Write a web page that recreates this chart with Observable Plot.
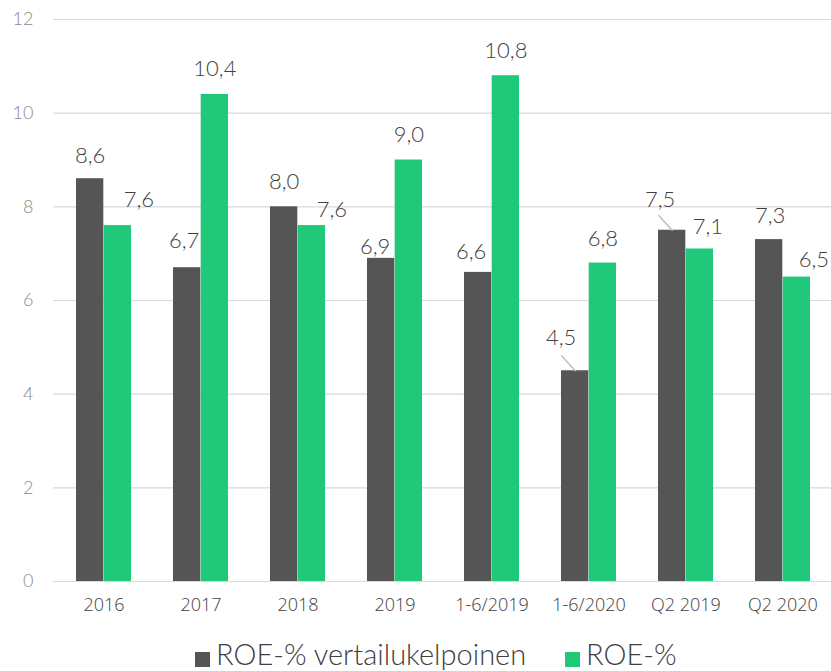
<!DOCTYPE html>
<html><head><meta charset="utf-8">
<script src="https://cdn.jsdelivr.net/npm/d3@7"></script>
<script src="https://cdn.jsdelivr.net/npm/@observablehq/plot@0.6"></script>
<style>
body{margin:0;background:#fff;}
#chart svg{display:block;}
#legend{position:relative;height:44px;font-family:Lato,sans-serif;font-weight:300;font-size:29px;line-height:1;color:#404040;white-space:nowrap;}
#legend .item{position:absolute;top:12px;}
#legend .sw{display:inline-block;width:15px;height:15px;vertical-align:-2px;margin-right:6px;}
</style></head><body>
<div id="chart"></div>
<div id="legend"></div>
<script>
// ---- data ----
const categories = ["2016", "2017", "2018", "2019", "1-6/2019", "1-6/2020", "Q2 2019", "Q2 2020"];
const seriesNames = ["ROE-% vertailukelpoinen", "ROE-%"];
const roeComparable = [8.6, 6.7, 8.0, 6.9, 6.6, 4.5, 7.5, 7.3];
const roe = [7.6, 10.4, 7.6, 9.0, 10.8, 6.8, 7.1, 6.5];
const yTicks = [0, 2, 4, 6, 8, 10, 12];
const leaderCategories = ["1-6/2020", "Q2 2019"];

// ---- layout / style ----
const colors = ["#555555", "#20c97a"];
const nudgeDx = [[0, -3, 0, -6, -7, -14, -12, 1], [21, 0, 20, 0, 0, 0, 8, 17]];
const nudgeDy = [[2, -2, 0, 14, 5, -8, -5, 1], [-1, 0, 9, 0, 0, 1, 3, 8]];

const fmt = v => v.toFixed(1).replace(".", ",");
const rows = [];
[roeComparable, roe].forEach((vals, s) =>
  vals.forEach((v, i) => rows.push({category: categories[i], series: seriesNames[s], s, i, value: v})));

const W = 831, H = 627, left = 53, right = 832;
const step = (right - left) / categories.length;
const barW = 27.7;
const half = step / 2;
const off = barW / 2;

const lineShape = {draw(context, l) { context.moveTo(0, 0); context.lineTo(0, -l); }};

const marks = [
  Plot.ruleY(yTicks, {y: d => d, stroke: "#d9d9d9", strokeWidth: 1.2}),
  Plot.barY(rows.filter(d => d.s === 0), {x: "category", y: "value", fill: colors[0], insetLeft: half - barW, insetRight: half}),
  Plot.barY(rows.filter(d => d.s === 1), {x: "category", y: "value", fill: colors[1], insetLeft: half, insetRight: half - barW}),
  Plot.vector(rows.filter(d => d.s === 0 && leaderCategories.includes(d.category)), {
    x: "category", y: "value", dx: -off, length: 20, rotate: -42, anchor: "start",
    shape: lineShape, stroke: "#bfbfbf", strokeWidth: 1.5
  }),
  ...rows.map(d => Plot.text([d], {
    x: "category", y: "value", text: r => fmt(r.value),
    dx: (d.s === 0 ? -off : off) + nudgeDx[d.s][d.i],
    dy: -25 + nudgeDy[d.s][d.i],
    fontSize: 22, fontFamily: "Lato, sans-serif", fontWeight: 300, fill: "#404040"
  })),
  Plot.axisY(yTicks, {tickSize: 0, tickPadding: 20, fontSize: 18, fontFamily: "Lato, sans-serif", fontWeight: 300, fill: "#8c8c8c", tickFormat: d => String(d), label: null}),
  Plot.axisX({tickSize: 0, tickPadding: 17, fontSize: 18, fontFamily: "Open Sans, Liberation Sans, sans-serif", fontWeight: 300, fill: "#404040", label: null})
];

const chart = Plot.plot({
  width: W, height: H,
  marginLeft: left, marginRight: 0, marginTop: 19, marginBottom: H - 581,
  x: {type: "band", domain: categories, range: [left, right], padding: 0, label: null},
  y: {domain: [0, 12], label: null},
  style: {background: "white", overflow: "visible"},
  marks
});
document.getElementById("chart").appendChild(chart);

// legend
const legend = document.getElementById("legend");
const legendLeft = [195, 565];
seriesNames.forEach((name, s) => {
  const item = document.createElement("span");
  item.className = "item";
  item.style.left = legendLeft[s] + "px";
  const sw = document.createElement("span");
  sw.className = "sw";
  sw.style.background = colors[s];
  item.appendChild(sw);
  item.appendChild(document.createTextNode(name));
  legend.appendChild(item);
});
</script>
</body></html>
